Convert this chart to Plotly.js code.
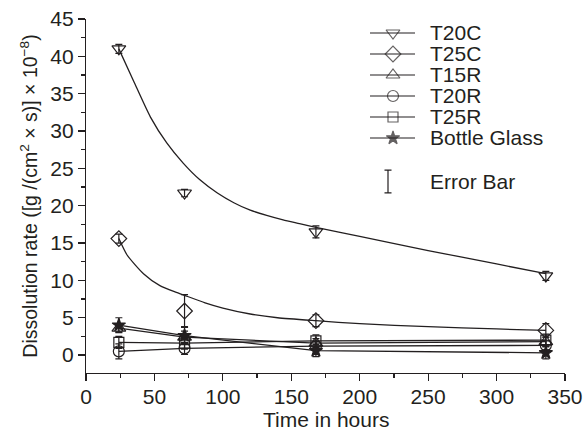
<!DOCTYPE html>
<html>
<head>
<meta charset="utf-8">
<script src="https://cdn.plot.ly/plotly-3.0.1.min.js"></script>
<style>html,body{margin:0;padding:0;background:#fff;}#chart{width:585px;height:432px;}</style>
</head>
<body>
<div id="chart"></div>
<script>
// ---- data ----
var timeHours = [24, 72, 168, 336];

var t20c = [41.0, 21.7, 16.5, 10.6];
var t20cErr = [0.6, 0.5, 0.8, 0.6];
var t25c = [15.6, 5.9, 4.6, 3.3];
var t25cErr = [0.6, 2.2, 0.8, 0.9];
var t15r = [3.6, 2.4, 1.6, 1.8];
var t15rErr = [0.5, 0.8, 0.6, 0.6];
var t20r = [0.5, 0.9, 1.2, 1.3];
var t20rErr = [1.0, 0.8, 0.6, 0.6];
var t25r = [1.7, 1.6, 1.9, 2.0];
var t25rErr = [0.8, 0.8, 0.8, 0.8];
var bottle = [4.0, 2.6, 0.6, 0.3];
var bottleErr = [1.0, 1.2, 0.8, 0.8];

// fitted curves
var fitT20cX = [24, 35, 47, 59, 71, 83, 96, 108, 120, 132, 144, 156, 168, 200, 250, 300, 336];
var fitT20cY = [41.0, 36.6, 31.9, 28.4, 25.7, 23.5, 21.7, 20.4, 19.4, 18.7, 18.1, 17.6, 17.1, 15.9, 14.0, 12.2, 10.9];
var fitT25cX = [24, 30, 42, 54, 66, 72, 87, 100, 120, 140, 168, 200, 250, 300, 336];
var fitT25cY = [15.6, 13.4, 10.9, 9.3, 8.4, 8.0, 7.0, 6.3, 5.5, 5.0, 4.6, 4.2, 3.8, 3.5, 3.3];

var seriesNames = ['T20C', 'T25C', 'T15R', 'T20R', 'T25R', 'Bottle Glass'];
var xTickVals = [0, 50, 100, 150, 200, 250, 300, 350];
var yTickVals = [0, 5, 10, 15, 20, 25, 30, 35, 40, 45];

// ---- styling ----
var INK = '#231f20';
var FONT = 'Liberation Sans, Arial, Helvetica, sans-serif';
var symbols = ['triangle-down-open', 'diamond-open', 'triangle-up-open', 'circle-open', 'square-open', 'star'];
var sizes = [12, 12, 12, 11, 10, 10];

function errBar(arr) {
  return {type: 'data', array: arr, visible: true, color: INK, thickness: 1.2, width: 3.5};
}
function mk(i) {
  return {symbol: symbols[i], size: sizes[i], color: INK, line: {color: INK, width: 1.2}};
}

var traces = [];
// fitted curves
traces.push({x: fitT20cX, y: fitT20cY, mode: 'lines', line: {color: INK, width: 1.3, shape: 'spline', smoothing: 0.6}, showlegend: false, hoverinfo: 'skip'});
traces.push({x: fitT25cX, y: fitT25cY, mode: 'lines', line: {color: INK, width: 1.3, shape: 'spline', smoothing: 0.6}, showlegend: false, hoverinfo: 'skip'});

var ys = [t20c, t25c, t15r, t20r, t25r, bottle];
var es = [t20cErr, t25cErr, t15rErr, t20rErr, t25rErr, bottleErr];
for (var i = 0; i < 6; i++) {
  traces.push({
    x: timeHours, y: ys[i], name: seriesNames[i],
    mode: i < 2 ? 'markers' : 'lines+markers',
    line: {color: INK, width: 1.3},
    marker: mk(i),
    error_y: errBar(es[i]),
    showlegend: false, cliponaxis: false
  });
}

// ---- hand-drawn legend on a pixel-mapped overlay axis ----
var legRows = [33, 54, 75, 96, 117, 138];
var annotations = [];
for (var j = 0; j < 6; j++) {
  traces.push({
    x: [370, 393, 415], y: [legRows[j], legRows[j], legRows[j]],
    xaxis: 'x2', yaxis: 'y2', mode: 'lines+markers',
    line: {color: INK, width: 1.2},
    marker: {symbol: symbols[j], size: [0, sizes[j], 0], color: INK, line: {color: INK, width: 1.2}},
    showlegend: false, hoverinfo: 'skip', cliponaxis: false
  });
  annotations.push({xref: 'x2', yref: 'y2', x: 428, y: legRows[j] - 1, text: seriesNames[j], showarrow: false,
    xanchor: 'left', yanchor: 'middle', font: {family: FONT, size: 21, color: INK}});
}
traces.push({
  x: [388], y: [181.5], xaxis: 'x2', yaxis: 'y2', mode: 'markers',
  marker: {size: 1, color: 'rgba(0,0,0,0)'},
  error_y: {type: 'constant', value: 11.3, visible: true, color: INK, thickness: 1.2, width: 3.5},
  showlegend: false, hoverinfo: 'skip', cliponaxis: false
});
annotations.push({xref: 'x2', yref: 'y2', x: 428, y: 181, text: 'Error Bar', showarrow: false,
  xanchor: 'left', yanchor: 'middle', font: {family: FONT, size: 21, color: INK}});
// x-axis title placed just below the tick labels (paper coords; plot area spans px 19..373)
annotations.push({xref: 'paper', yref: 'paper', x: 0.502, y: (373 - 419) / 354, text: 'Time in hours', showarrow: false,
  xanchor: 'center', yanchor: 'middle', font: {family: FONT, size: 21, color: INK}});

var layout = {
  width: 585, height: 432,
  margin: {l: 86, r: 20, t: 19, b: 59, pad: 0},
  paper_bgcolor: '#fff', plot_bgcolor: '#fff',
  font: {family: FONT, size: 21, color: INK},
  showlegend: false,
  xaxis: {
    range: [0, 350], tickvals: xTickVals, ticktext: xTickVals.map(String),
    ticks: 'outside', ticklen: 7, tickwidth: 1.2, tickcolor: INK, ticklabelstandoff: -2,
    minor: {dtick: 25, tick0: 0, ticks: 'outside', ticklen: 4, tickwidth: 1.2, tickcolor: INK, showgrid: false},
    showline: true, linecolor: INK, linewidth: 1.2, showgrid: false, zeroline: false,
    tickfont: {family: FONT, size: 21, color: INK},
    automargin: false
  },
  yaxis: {
    range: [-2.4, 45], tickvals: yTickVals, ticktext: yTickVals.map(String),
    ticks: 'outside', ticklen: 7, tickwidth: 1.2, tickcolor: INK,
    minor: {dtick: 2.5, tick0: 0, ticks: 'outside', ticklen: 4, tickwidth: 1.2, tickcolor: INK, showgrid: false},
    showline: true, linecolor: INK, linewidth: 1.2, showgrid: false, zeroline: false,
    tickfont: {family: FONT, size: 21, color: INK},
    title: {text: 'Dissolution rate ([g /(cm<sup>2</sup> × s)] × 10<sup>−8</sup>)', font: {family: FONT, size: 19.5, color: INK}},
    automargin: false
  },
  xaxis2: {overlaying: 'x', anchor: 'y2', range: [86, 565], visible: false, fixedrange: true},
  yaxis2: {overlaying: 'y', anchor: 'x2', range: [373, 19], visible: false, fixedrange: true},
  annotations: annotations
};

Plotly.newPlot('chart', traces, layout, {staticPlot: true, displayModeBar: false});
</script>
</body>
</html>
